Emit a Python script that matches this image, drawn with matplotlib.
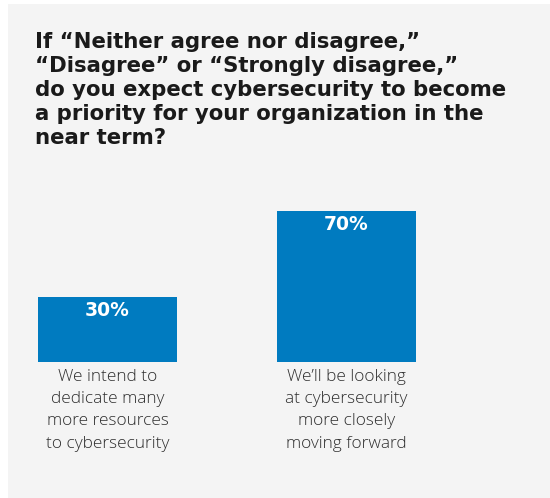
import matplotlib
matplotlib.use("Agg")
import matplotlib.pyplot as plt
from matplotlib.patches import Rectangle

# survey answers
categories = [
    "We intend to\ndedicate many\nmore resources\nto cybersecurity",
    "We\u2019ll be looking\nat cybersecurity\nmore closely\nmoving forward",
]
shares = [30, 70]
value_labels = ["30%", "70%"]
title = ("If \u201cNeither agree nor disagree,\u201d\n"
         "\u201cDisagree\u201d or \u201cStrongly disagree,\u201d\n"
         "do you expect cybersecurity to become\n"
         "a priority for your organization in the\n"
         "near term?")

W, H = 550, 498
BLUE = "#007bc0"
PANEL = "#f4f4f4"

fig = plt.figure(figsize=(W / 100, H / 100), dpi=100, facecolor="white")

# grey panel behind everything
fig.patches.append(Rectangle((8 / W, 0), 1, (H - 4) / H, transform=fig.transFigure,
                             facecolor=PANEL, edgecolor="none", zorder=-5))

fig.text(35 / W, 1 - 32 / H, title, ha="left", va="top", fontsize=15.3,
         fontweight="bold", color="#1a1a1a", family=["DejaVu Sans"],
         linespacing=1.25)

bar_w = 139 / 239
ax = fig.add_axes([38 / W, 136 / H, 378 / W, 151 / H])
ax.set_facecolor("none")
ax.set_zorder(2)
x = list(range(len(shares)))
ax.bar(x, shares, width=bar_w, color=BLUE)
ax.set_xlim(-bar_w / 2, 1 + bar_w / 2)
ax.set_ylim(0, 70)

for xi, v, lab in zip(x, shares, value_labels):
    ax.annotate(lab, (xi, v), xytext=(0, -3), textcoords="offset points",
                ha="center", va="top", color="white", fontsize=13.5,
                fontweight="bold", family=["DejaVu Sans"])

ax.set_xticks(x, labels=categories)
ax.tick_params(axis="x", length=0, pad=5, labelsize=12.4, labelcolor="#2e2e2e")
for t in ax.get_xticklabels():
    t.set_family(["Open Sans", "DejaVu Sans"])
    t.set_fontweight("light")
    t.set_linespacing(1.52)
ax.set_yticks([])
for s in ax.spines.values():
    s.set_visible(False)

fig.savefig("out.png", dpi=100, facecolor="white")
